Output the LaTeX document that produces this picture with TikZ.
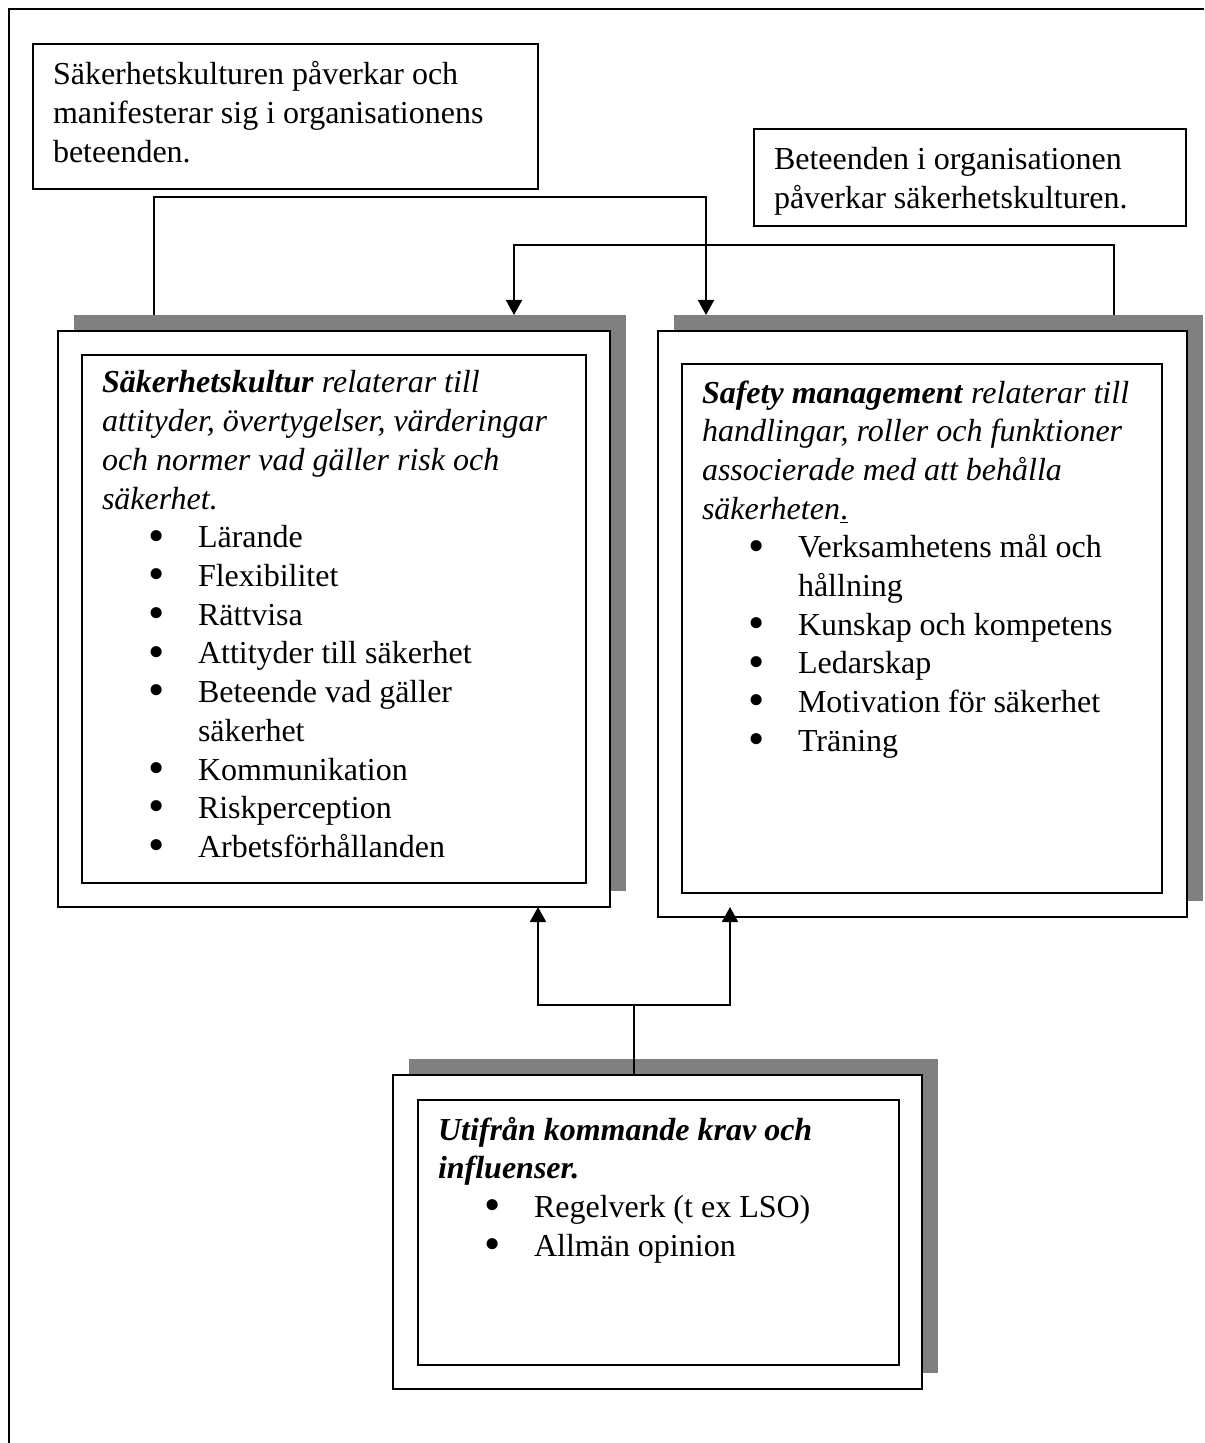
\documentclass[tikz,border=0pt]{standalone}
\usepackage{fontspec}
\setmainfont{Liberation Serif}
\usetikzlibrary{arrows.meta}
\definecolor{shadowgray}{HTML}{808080}
\newcommand\bigbul{\makebox[0pt][c]{\smash{\raisebox{-0.1em}{\scalebox{1.45}{\textbullet}}}}}
\newcommand\bul[1]{\hspace*{27.5pt}\bigbul\hspace*{20.5pt}#1}
\newcommand\cont[1]{\hspace*{48pt}#1}
\newcommand\bodyfont{\fontsize{16pt}{19.35pt}\selectfont}
\newcommand\txtblock[1]{\parbox[t]{320pt}{\bodyfont\raggedright #1}}
\tikzset{
  whitebox/.style={draw, line width=1pt, fill=white, anchor=north west, inner sep=0pt, outer sep=0pt},
  shadowbox/.style={fill=shadowgray, anchor=north west, inner sep=0pt, outer sep=0pt},
  innerbox/.style={draw, line width=1pt, anchor=north west, inner sep=0pt, outer sep=0pt},
  txt/.style={anchor=base west, inner sep=0pt, outer sep=0pt},
  conn/.style={line width=1pt},
  arr/.style={conn, -{Triangle[width=8pt,length=7.5pt]}},
}
\begin{document}
\begin{tikzpicture}[x=0.5pt,y=-0.5pt]
\useasboundingbox (0,0) rectangle (1204,1443);
\fill[white] (0,0) rectangle (1204,1443);
% page frame (cut off at right and bottom)
\draw[line width=1pt] (9,1443) -- (9,9) -- (1204,9);

% top text boxes
\node[whitebox, minimum width=252.5pt, minimum height=72.5pt] (tl) at (33,44) {};
\node[txt] (tlt) at (53,85) {\txtblock{S\"akerhetskulturen p\r{a}verkar och\\manifesterar sig i organisationens\\beteenden.}};
\node[whitebox, minimum width=216pt, minimum height=48.5pt] (tr) at (754,129) {};
\node[txt] (trt) at (774,170) {\txtblock{Beteenden i organisationen\\p\r{a}verkar s\"akerhetskulturen.}};

% left box
\node[shadowbox, minimum width=276pt, minimum height=288pt] (Ls) at (74,315) {};
\node[whitebox, minimum width=276pt, minimum height=288pt] (L) at (58,331) {};
\node[innerbox, minimum width=252pt, minimum height=264pt] (Li) at (82,355) {};
\node[txt] (Lt) at (102,393) {\txtblock{\textbf{\textit{S\"akerhetskultur}}\textit{ relaterar till}\\
\textit{attityder, \"overtygelser, v\"arderingar}\\
\textit{och normer vad g\"aller risk och}\\
\textit{s\"akerhet.}\\
\bul{L\"arande}\\
\bul{Flexibilitet}\\
\bul{R\"attvisa}\\
\bul{Attityder till s\"akerhet}\\
\bul{Beteende vad g\"aller}\\
\cont{s\"akerhet}\\
\bul{Kommunikation}\\
\bul{Riskperception}\\
\bul{Arbetsf\"orh\r{a}llanden}}};

% right box
\node[shadowbox, minimum width=264.5pt, minimum height=293pt] (Rs) at (674,315) {};
\node[whitebox, minimum width=264.5pt, minimum height=293pt] (R) at (658,331) {};
\node[innerbox, minimum width=240pt, minimum height=264.5pt] (Ri) at (682,364) {};
\node[txt] (Rt) at (702,403) {\txtblock{\textbf{\textit{Safety management}}\textit{ relaterar till}\\
\textit{handlingar, roller och funktioner}\\
\textit{associerade med att beh\r{a}lla}\\
\textit{s\"akerheten}\underline{.}\\
\bul{Verksamhetens m\r{a}l och}\\
\cont{h\r{a}llning}\\
\bul{Kunskap och kompetens}\\
\bul{Ledarskap}\\
\bul{Motivation f\"or s\"akerhet}\\
\bul{Tr\"aning}}};

% bottom box
\node[shadowbox, minimum width=264.5pt, minimum height=157pt] (Bs) at (409,1059) {};
\node[whitebox, minimum width=264.5pt, minimum height=157pt] (B) at (393,1075) {};
\node[innerbox, minimum width=240.5pt, minimum height=132.5pt] (Bi) at (418,1100) {};
\node[txt] (Bt) at (438,1140) {\txtblock{\textbf{\textit{Utifr\r{a}n kommande krav och}}\\
\textbf{\textit{influenser.}}\\
\bul{Regelverk (t ex LSO)}\\
\bul{Allm\"an opinion}}};

% connectors
\coordinate (k1) at (154,197);
\coordinate (k2) at (706,197);
\coordinate (k3) at (1114,245);
\coordinate (k4) at (514,245);
\coordinate (k5) at (634,1005);
\coordinate (kl) at (538,1005);
\coordinate (kr) at (730,1005);
\draw[arr] (k1 |- Ls.north) -- (k1) -- (k2) -- (k2 |- Rs.north);
\draw[arr] (k3 |- Rs.north) -- (k3) -- (k4) -- (k4 |- Ls.north);
\draw[conn] (k5 |- B.north) -- (k5);
\draw[arr] (k5) -- (kl) -- (kl |- L.south);
\draw[arr] (k5) -- (kr) -- (kr |- L.south);
\end{tikzpicture}
\end{document}
